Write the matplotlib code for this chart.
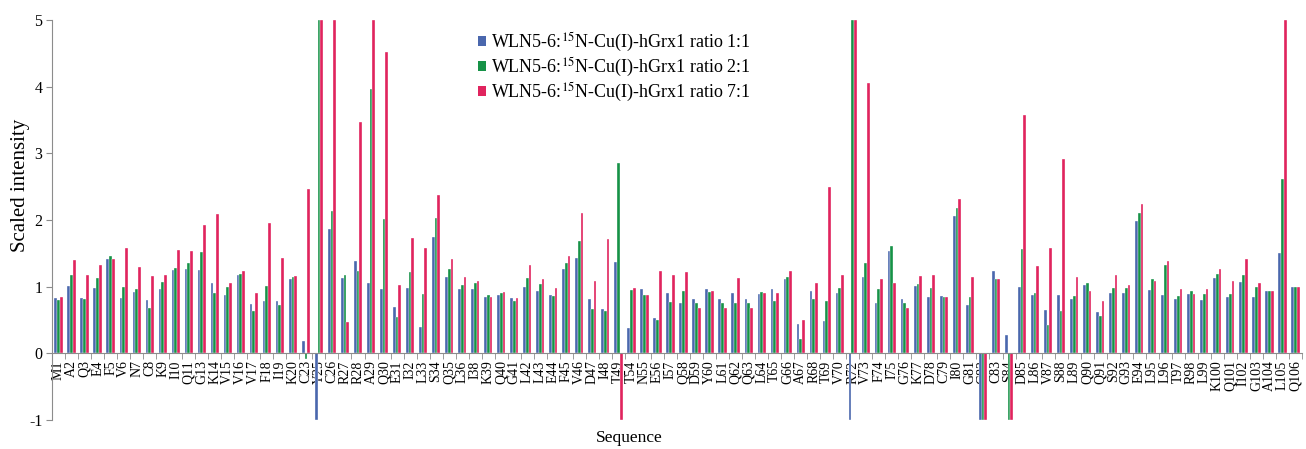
import matplotlib
matplotlib.use("Agg")
import matplotlib.pyplot as plt
from matplotlib.patches import Patch
import numpy as np

plt.rcParams["font.family"] = ["Liberation Serif", "DejaVu Serif"]
plt.rcParams["mathtext.fontset"] = "stix"

residues = ["M1", "A2", "Q3", "E4", "F5", "V6", "N7", "C8", "K9", "I10", "Q11", "G13",
            "K14", "V15", "V16", "V17", "F18", "I19", "K20", "C23", "Y25", "C26", "R27",
            "R28", "A29", "Q30", "E31", "I32", "L33", "S34", "Q35", "L36", "I38", "K39",
            "Q40", "G41", "L42", "L43", "E44", "F45", "V46", "D47", "I48", "T49", "T54",
            "N55", "E56", "I57", "Q58", "D59", "Y60", "L61", "Q62", "Q63", "L64", "T65",
            "G66", "A67", "R68", "T69", "V70", "R72", "V73", "F74", "I75", "G76", "K77",
            "D78", "C79", "I80", "G81", "G82", "C83", "S84", "D85", "L86", "V87", "S88",
            "L89", "Q90", "Q91", "S92", "G93", "E94", "L95", "L96", "T97", "R98", "L99",
            "K100", "Q101", "I102", "G103", "A104", "L105", "Q106"]

ratio_1_1 = [0.83, 1.01, 0.83, 0.98, 1.41, 0.83, 0.92, 0.80, 0.97, 1.25, 1.27, 1.25,
             1.06, 0.87, 1.17, 0.74, 0.79, 0.78, 1.11, 0.19, -1.0, 1.86, 1.13,
             1.39, 1.05, 0.96, 0.69, 0.98, 0.39, 1.74, 1.14, 0.97, 0.97, 0.84,
             0.87, 0.83, 0.99, 0.94, 0.88, 1.26, 1.43, 0.82, 0.66, 1.37, 0.38,
             0.96, 0.53, 0.90, 0.75, 0.82, 0.96, 0.82, 0.90, 0.82, 0.89, 0.96,
             1.12, 0.44, 0.94, 0.48, 0.90, -1.0, 1.14, 0.75, 1.53, 0.82, 1.01,
             0.85, 0.86, 2.06, 0.72, -1.0, 1.24, 0.28, 0.99, 0.87, 0.65, 0.88,
             0.81, 1.03, 0.62, 0.90, 0.90, 1.99, 0.95, 0.88, 0.82, 0.89, 0.80,
             1.13, 0.85, 1.07, 0.85, 0.93, 1.51, 1.00]

ratio_2_1 = [0.80, 1.17, 0.82, 1.13, 1.46, 1.00, 0.97, 0.68, 1.07, 1.28, 1.35, 1.52,
             0.91, 1.00, 1.19, 0.64, 1.01, 0.72, 1.15, -0.08, 5.0, 2.13, 1.18,
             1.23, 3.96, 2.02, 0.55, 1.22, 0.89, 2.03, 1.26, 1.02, 1.06, 0.88,
             0.90, 0.79, 1.13, 1.04, 0.86, 1.35, 1.69, 0.67, 0.63, 2.85, 0.95,
             0.87, 0.50, 0.77, 0.93, 0.76, 0.92, 0.76, 0.76, 0.76, 0.92, 0.78,
             1.14, 0.21, 0.81, 0.78, 0.98, 5.0, 1.35, 0.97, 1.61, 0.76, 1.04,
             0.98, 0.85, 2.18, 0.85, -1.0, 1.12, -1.0, 1.57, 0.90, 0.43, 0.64,
             0.86, 1.05, 0.56, 0.98, 0.98, 2.11, 1.11, 1.32, 0.86, 0.93, 0.89,
             1.19, 0.89, 1.17, 1.00, 0.94, 2.61, 1.00]

ratio_7_1 = [0.85, 1.40, 1.17, 1.32, 1.41, 1.58, 1.30, 1.16, 1.17, 1.55, 1.53, 1.92,
             2.09, 1.05, 1.24, 0.91, 1.96, 1.43, 1.16, 2.47, 5.0, 5.0, 0.47,
             3.47, 5.0, 4.52, 1.02, 1.73, 1.58, 2.37, 1.42, 1.15, 1.08, 0.84,
             0.92, 0.83, 1.33, 1.12, 0.98, 1.46, 2.11, 1.08, 1.72, -1.0, 0.98,
             0.87, 1.24, 1.17, 1.22, 0.68, 0.93, 0.68, 1.13, 0.68, 0.90, 0.90,
             1.24, 0.50, 1.06, 2.49, 1.17, 5.0, 4.06, 1.12, 1.05, 0.68, 1.16,
             1.17, 0.85, 2.32, 1.14, -1.0, 1.12, -1.0, 3.58, 1.31, 1.58, 2.92,
             1.14, 0.93, 0.78, 1.17, 1.03, 2.24, 1.09, 1.39, 0.96, 0.89, 0.96,
             1.26, 1.09, 1.42, 1.06, 0.94, 5.0, 1.00]

series_labels = [r"WLN5-6:$^{\mathrm{15}}$N-Cu(I)-hGrx1 ratio 1:1",
                 r"WLN5-6:$^{\mathrm{15}}$N-Cu(I)-hGrx1 ratio 2:1",
                 r"WLN5-6:$^{\mathrm{15}}$N-Cu(I)-hGrx1 ratio 7:1"]
colors = ["#4a67ad", "#169247", "#e0245e"]

fig = plt.figure(figsize=(13.06, 4.49), dpi=100)
ax = fig.add_axes([52 / 1306, 29 / 449, 1250 / 1306, 400 / 449])

x = np.arange(len(residues))
w = 0.21
for k, (vals, col) in enumerate(zip([ratio_1_1, ratio_2_1, ratio_7_1], colors)):
    ax.bar(x + (k - 1) * w, vals, width=w, color=col, edgecolor="white",
           linewidth=0.25, zorder=2)

ax.set_axisbelow(True)
ax.set_xlim(-0.5, len(residues) - 0.5)
ax.set_ylim(-1, 5)

axis_gray = "#8c8c8c"
for side in ("top", "right"):
    ax.spines[side].set_visible(False)
ax.spines["left"].set_color(axis_gray)
ax.spines["bottom"].set_color(axis_gray)
ax.spines["bottom"].set_position(("data", 0))

ax.set_yticks(range(-1, 6))
ax.set_yticklabels([str(v) for v in range(-1, 6)], fontsize=11.5)
ax.tick_params(axis="y", direction="out", length=4, color=axis_gray, pad=3)

ax.set_xticks(x)
ax.set_xticklabels(residues, rotation=90, fontsize=10)
ax.tick_params(axis="x", which="major", length=0, pad=5)
ax.set_xticks(np.arange(-0.5, len(residues), 1.0), minor=True)
ax.tick_params(axis="x", which="minor", direction="out", length=4, color=axis_gray)

ax.set_ylabel("Scaled intensity", fontsize=15)
ax.yaxis.set_label_coords(-0.0175, 0.5875)
ax.set_xlabel("Sequence", fontsize=12.5)
ax.xaxis.set_label_coords(0.462, -0.025)

handles = [Patch(facecolor=c, edgecolor="none") for c in colors]
ax.legend(handles, series_labels, loc="upper left", bbox_to_anchor=(0.3408, 0.974),
          frameon=False, fontsize=13, handlelength=0.45, handleheight=0.45,
          handletextpad=0.25, labelspacing=0.12, borderpad=0, borderaxespad=0)

fig.savefig("out.png", dpi=100)
